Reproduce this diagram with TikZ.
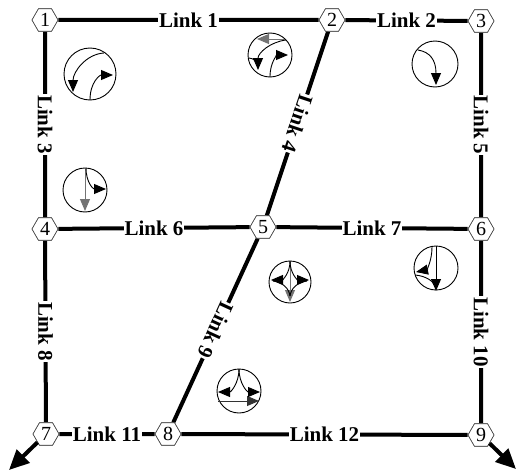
\documentclass[tikz,border=0pt]{standalone}
\usepackage{fontspec}
\setmainfont{Liberation Serif}
\usetikzlibrary{arrows.meta,shapes.geometric}
\begin{document}
\begin{tikzpicture}[x=1pt,y=-1pt,
  hexnode/.style={regular polygon, regular polygon sides=6, minimum size=26pt, inner sep=0pt,
    draw=black!75, line width=0.6pt, fill=white, font=\fontsize{20}{20}\selectfont},
  link/.style={line width=4pt},
  lab/.style={fill=white, inner sep=1pt, font=\fontsize{21}{21}\selectfont\bfseries},
  ring/.style={line width=0.9pt},
  mv/.style={line width=0.9pt, -{Triangle[length=12pt,width=10pt]}},
  plain/.style={line width=0.9pt},
  grayline/.style={draw=black!55},
  outarrow/.style={line width=4pt, -{Triangle[length=20pt,width=18pt]}}
]
\useasboundingbox (0,0) rectangle (517,471);

% nodes
\node[hexnode] (n1) at (45,20) {1};
\node[hexnode] (n2) at (332,20) {2};
\node[hexnode] (n3) at (481,21) {3};
\node[hexnode] (n4) at (45,229) {4};
\node[hexnode] (n5) at (263,227) {5};
\node[hexnode] (n6) at (481,229) {6};
\node[hexnode] (n7) at (46,434) {7};
\node[hexnode] (n8) at (168,434) {8};
\node[hexnode] (n9) at (481,435) {9};

% links
\draw[link] (n1) -- (n2) node[lab,midway] {Link 1};
\draw[link] (n2) -- (n3) node[lab,midway] {Link 2};
\draw[link] (n1) -- (n4) node[lab,midway,rotate=-90] {Link 3};
\draw[link] (n2) -- (n5) node[lab,midway,rotate=-108.4] {Link 4};
\draw[link] (n3) -- (n6) node[lab,midway,rotate=-90] {Link 5};
\draw[link] (n4) -- (n5) node[lab,midway] {Link 6};
\draw[link] (n5) -- (n6) node[lab,midway] {Link 7};
\draw[link] (n4) -- (n7) node[lab,midway,rotate=-90] {Link 8};
\draw[link] (n5) -- (n8) node[lab,midway,rotate=-114.6] {Link 9};
\draw[link] (n6) -- (n9) node[lab,midway,rotate=-90] {Link 10};
\draw[link] (n7) -- (n8) node[lab,midway] {Link 11};
\draw[link] (n8) -- (n9) node[lab,midway] {Link 12};

% redraw nodes on top
\foreach \n/\t in {n1/1,n2/2,n3/3,n4/4,n5/5,n6/6,n7/7,n8/8,n9/9}{
  \node[hexnode] at (\n) {\t};
}

% outgoing arrows
\coordinate (o7) at (9,470);
\coordinate (o9) at (516,469);
\draw[outarrow] (n7) -- (o7);
\draw[outarrow] (n9) -- (o9);

% movement circles
% C1
\begin{scope}[shift={(90,74)}]
  \draw[ring] (0,0) circle[radius=26];
  \draw[mv] (14,-21) .. controls (-4,-20) and (-17,-2) .. (-17,18);
  \draw[mv] (0,26) .. controls (0,8) and (10,1) .. (23,1);
\end{scope}
% C2
\begin{scope}[shift={(270,55)}]
  \draw[ring] (0,0) circle[radius=22];
  \draw[mv,grayline] (15,-16) -- (-13,-16);
  \draw[mv] (16,-15) .. controls (0,-13) and (-12,-2) .. (-12,15);
  \draw[plain] (-21,3) .. controls (-14,4) and (-12,8) .. (-12,12);
  \draw[mv] (0,22) .. controls (0,6) and (8,0) .. (18,0);
\end{scope}
% C3
\begin{scope}[shift={(435,64)}]
  \draw[ring] (0,0) circle[radius=23];
  \draw[mv] (-17,-14) .. controls (-5,-12) and (1,-4) .. (1,21);
\end{scope}
% C4
\begin{scope}[shift={(85,190)}]
  \draw[ring] (0,0) circle[radius=22];
  \draw[mv,grayline] (0,-22) -- (0,21);
  \draw[mv] (1,-22) .. controls (1,-8) and (8,-1) .. (21,-1);
\end{scope}
% C5
\begin{scope}[shift={(290,282)}]
  \draw[ring] (0,0) circle[radius=21];
  \draw[mv,grayline] (0,-21) -- (0,20);
  \draw[mv] (0,-21) .. controls (0,-8) and (-8,-2) .. (-19,-2);
  \draw[mv] (0,-21) .. controls (0,-8) and (8,-2) .. (19,-2);
  \draw[plain] (-17,-1) .. controls (-8,0) and (-1,6) .. (0,14);
  \draw[plain] (17,-1) .. controls (8,0) and (1,6) .. (0,14);
\end{scope}
% C6
\begin{scope}[shift={(436,268)}]
  \draw[ring] (0,0) circle[radius=22];
  \draw[mv] (0,-22) -- (0,23);
  \draw[mv] (-4,-21) .. controls (-4,-6) and (-10,2) .. (-20,4);
  \draw[plain] (-21,7) .. controls (-10,8) and (-3,13) .. (-1,18);
\end{scope}
% C7
\begin{scope}[shift={(239,391)}]
  \draw[ring] (0,0) circle[radius=22];
  \draw[mv,draw=black!80] (-21,10) -- (20,10);
  \draw[mv] (0,-22) .. controls (0,-8) and (-8,1) .. (-21,1);
  \draw[mv] (0,-22) .. controls (0,-8) and (8,1) .. (21,1);
\end{scope}
\end{tikzpicture}
\end{document}
